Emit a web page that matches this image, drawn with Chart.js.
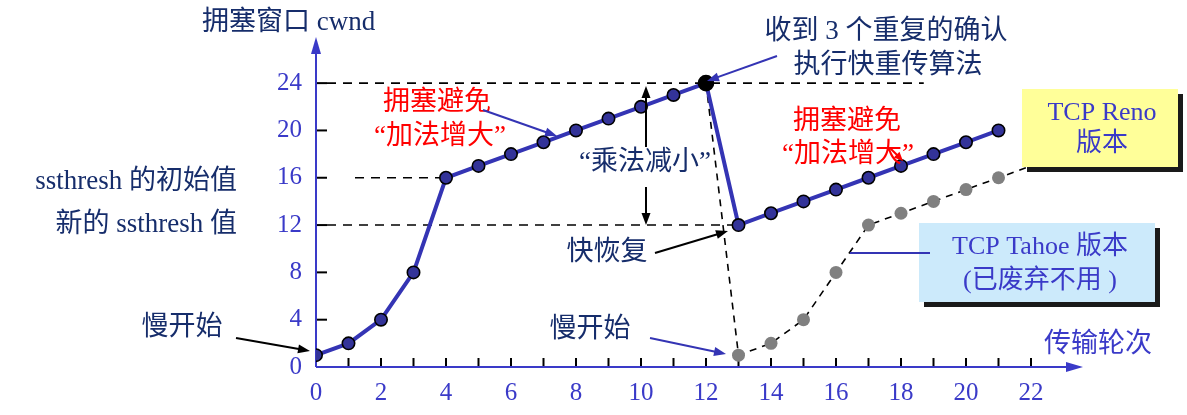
<!DOCTYPE html>
<html>
<head>
<meta charset="utf-8">
<script src="https://cdn.jsdelivr.net/npm/chart.js@4/dist/chart.umd.min.js"></script>
<style>
  html, body { margin: 0; padding: 0; background: #fff; }
</style>
</head>
<body>
<canvas id="graph" width="1187" height="415"></canvas>
<script>
// 传输轮次 与 拥塞窗口
const rounds = [0, 1, 2, 3, 4, 5, 6, 7, 8, 9, 10, 11, 12, 13, 14, 15, 16, 17, 18, 19, 20, 21];
const renoCwnd = [1, 2, 4, 8, 16, 17, 18, 19, 20, 21, 22, 23, 24, 12, 13, 14, 15, 16, 17, 18, 19, 20];
const tahoeRounds = [12, 13, 14, 15, 16, 17, 18, 19, 20, 21, 22];
const tahoeCwnd = [24, 1, 2, 4, 8, 12, 13, 14, 15, 16, 17];

// 刻度
const xTickLabels = [0, 2, 4, 6, 8, 10, 12, 14, 16, 18, 20, 22];
const xTickMarks = [1, 2, 3, 4, 5, 6, 7, 8, 9, 10, 11, 12, 13, 14, 15, 16, 17, 18, 19, 20, 21, 22];
const yTickLabels = [0, 4, 8, 12, 16, 20, 24];
const yTickMarks = [4, 8, 12, 16, 20, 24];

// 门限值
const peakCwnd = 24;
const ssthreshInit = 16;
const ssthreshNew = 12;
const lossRound = 12;

const NAVY = "#162d6b";
const BLUE = "#3a3ac8";
const LINE = "#3434b4";
const mixFont = (size) => `${size}px "Liberation Serif", "Noto Sans CJK SC", serif`;

function arrow(ctx, x1, y1, x2, y2, color, w, head = 12, hw = 4.5) {
  const a = Math.atan2(y2 - y1, x2 - x1);
  ctx.save();
  ctx.setLineDash([]);
  ctx.strokeStyle = color;
  ctx.fillStyle = color;
  ctx.lineWidth = w;
  ctx.beginPath();
  ctx.moveTo(x1, y1);
  ctx.lineTo(x2 - Math.cos(a) * head * 0.7, y2 - Math.sin(a) * head * 0.7);
  ctx.stroke();
  ctx.beginPath();
  ctx.moveTo(x2, y2);
  ctx.lineTo(x2 - head * Math.cos(a) + hw * Math.sin(a), y2 - head * Math.sin(a) - hw * Math.cos(a));
  ctx.lineTo(x2 - head * Math.cos(a) - hw * Math.sin(a), y2 - head * Math.sin(a) + hw * Math.cos(a));
  ctx.closePath();
  ctx.fill();
  ctx.restore();
}

function dashed(ctx, x1, y1, x2, y2, dash = [9, 7]) {
  ctx.save();
  ctx.strokeStyle = "#000";
  ctx.lineWidth = 1.6;
  ctx.setLineDash(dash);
  ctx.beginPath();
  ctx.moveTo(x1, y1);
  ctx.lineTo(x2, y2);
  ctx.stroke();
  ctx.restore();
}

function text(ctx, str, x, y, color, size, align = "center") {
  ctx.save();
  ctx.font = mixFont(size);
  ctx.fillStyle = color;
  ctx.textAlign = align;
  ctx.textBaseline = "middle";
  ctx.fillText(str, x, y);
  ctx.restore();
}

function box(ctx, x, y, w, h, fill) {
  ctx.save();
  ctx.fillStyle = "#1a1a1a";
  ctx.fillRect(x + 5, y + 5, w, h);
  ctx.fillStyle = fill;
  ctx.fillRect(x, y, w, h);
  ctx.restore();
}

// 坐标轴、刻度、虚线
const axesPlugin = {
  id: "axesPlugin",
  beforeDatasetsDraw(chart) {
    const { ctx, chartArea: a, scales: { x, y } } = chart;
    const y0 = y.getPixelForValue(0);
    const x0 = x.getPixelForValue(0);

    // 参考虚线
    dashed(ctx, x0 + 11, y.getPixelForValue(peakCwnd), x.getPixelForValue(18.7), y.getPixelForValue(peakCwnd));
    dashed(ctx, x.getPixelForValue(1.2), y.getPixelForValue(ssthreshInit), x.getPixelForValue(4), y.getPixelForValue(ssthreshInit));
    dashed(ctx, x0 + 11, y.getPixelForValue(ssthreshNew), x.getPixelForValue(13), y.getPixelForValue(ssthreshNew));

    ctx.save();
    ctx.strokeStyle = "#000";
    ctx.lineWidth = 2;
    xTickMarks.forEach((v) => {
      const px = x.getPixelForValue(v);
      ctx.beginPath();
      ctx.moveTo(px, y0);
      ctx.lineTo(px, y0 - 9);
      ctx.stroke();
    });
    yTickMarks.forEach((v) => {
      const py = y.getPixelForValue(v);
      ctx.beginPath();
      ctx.moveTo(x0, py);
      ctx.lineTo(x0 + 11, py);
      ctx.stroke();
    });
    ctx.restore();

    // 轴线
    arrow(ctx, x0, y0, x0, a.top, BLUE, 2, 17, 5);
    arrow(ctx, x0, y0, a.right, y0, BLUE, 2, 17, 5);
  },
  afterDraw(chart) {
    const { ctx } = chart;

    text(ctx, "拥塞窗口 cwnd", 202, 23, NAVY, 27, "left");
    text(ctx, "收到 3 个重复的确认", 886, 32, NAVY, 27);
    text(ctx, "执行快重传算法", 888, 66, NAVY, 27);
    arrow(ctx, 777, 56, 707, 81, LINE, 2);

    text(ctx, "拥塞避免", 437, 103, "#ff0000", 27);
    text(ctx, "“加法增大”", 440, 137, "#ff0000", 27);
    arrow(ctx, 483, 110, 557, 136, LINE, 2);

    text(ctx, "拥塞避免", 847, 122, "#ff0000", 27);
    text(ctx, "“加法增大”", 848, 155, "#ff0000", 27);
    arrow(ctx, 890, 148, 903, 161, "#ff0000", 2, 9, 4);

    text(ctx, "“乘法减小”", 645, 163, NAVY, 27);
    arrow(ctx, 646, 147, 646, 86, "#000", 2);
    arrow(ctx, 646, 187, 646, 225, "#000", 2);

    text(ctx, "ssthresh 的初始值", 237, 182, NAVY, 27, "right");
    text(ctx, "新的 ssthresh 值", 237, 225, NAVY, 27, "right");

    text(ctx, "慢开始", 182, 328, NAVY, 27);
    arrow(ctx, 236, 338, 310, 351, "#000", 2);

    text(ctx, "快恢复", 607, 253, NAVY, 27);
    arrow(ctx, 655, 253, 728, 231, "#000", 2);

    text(ctx, "慢开始", 590, 330, NAVY, 27);
    arrow(ctx, 650, 338, 726, 354, LINE, 2);

    text(ctx, "传输轮次", 1098, 345, BLUE, 27);

    box(ctx, 1022, 89, 156, 78, "#ffff99");
    text(ctx, "TCP Reno", 1102, 113, BLUE, 26);
    text(ctx, "版本", 1102, 144, BLUE, 26);

    box(ctx, 919, 223, 236, 79, "#cceafb");
    text(ctx, "TCP Tahoe 版本", 1040, 247, BLUE, 26);
    text(ctx, "(已废弃不用 )", 1040, 281, BLUE, 26);
    ctx.save();
    ctx.strokeStyle = LINE;
    ctx.lineWidth = 2;
    ctx.beginPath();
    ctx.moveTo(850, 253);
    ctx.lineTo(930, 253);
    ctx.stroke();
    ctx.restore();
  },
};

const ctx = document.getElementById("graph").getContext("2d");

new Chart(ctx, {
  type: "line",
  data: {
    datasets: [
      {
        label: "TCP Reno",
        data: rounds.map((r, i) => ({ x: r, y: renoCwnd[i] })),
        borderColor: LINE,
        borderWidth: 4,
        pointRadius: rounds.map((r) => (r === lossRound ? 7.5 : 6.2)),
        pointBackgroundColor: rounds.map((r) => (r === lossRound ? "#000" : "#333399")),
        pointBorderColor: "#000",
        pointBorderWidth: 1.6,
        order: 0,
      },
      {
        label: "TCP Tahoe",
        data: tahoeRounds.map((r, i) => ({ x: r, y: tahoeCwnd[i] })),
        borderColor: "#000",
        borderWidth: 1.6,
        borderDash: [7, 6],
        pointRadius: tahoeRounds.map((r, i) => (i === 0 || i === tahoeRounds.length - 1 ? 0 : 6.5)),
        pointBackgroundColor: "#808080",
        pointBorderWidth: 0,
        order: 1,
      },
    ],
  },
  options: {
    responsive: false,
    animation: false,
    devicePixelRatio: 1,
    layout: { padding: { top: 37, right: 104, left: 0, bottom: 0 } },
    scales: {
      x: {
        type: "linear",
        min: 0,
        max: 23.6,
        grid: { display: false, drawTicks: false },
        border: { display: false },
        afterFit(scale) {
          scale.height = 48;
        },
        afterBuildTicks(scale) {
          scale.ticks = xTickLabels.map((v) => ({ value: v }));
        },
        ticks: {
          padding: 11,
          color: BLUE,
          font: { family: "Liberation Serif", size: 25 },
          maxRotation: 0,
          autoSkip: false,
        },
      },
      y: {
        min: 0,
        max: 27.9,
        grid: { display: false, drawTicks: false },
        border: { display: false },
        afterFit(scale) {
          scale.width = 316;
        },
        afterBuildTicks(scale) {
          scale.ticks = yTickLabels.map((v) => ({ value: v }));
        },
        ticks: {
          padding: 14,
          color: BLUE,
          font: { family: "Liberation Serif", size: 25 },
          autoSkip: false,
        },
      },
    },
    plugins: {
      legend: { display: false },
      tooltip: { enabled: false },
    },
  },
  plugins: [axesPlugin],
});
</script>
</body>
</html>
